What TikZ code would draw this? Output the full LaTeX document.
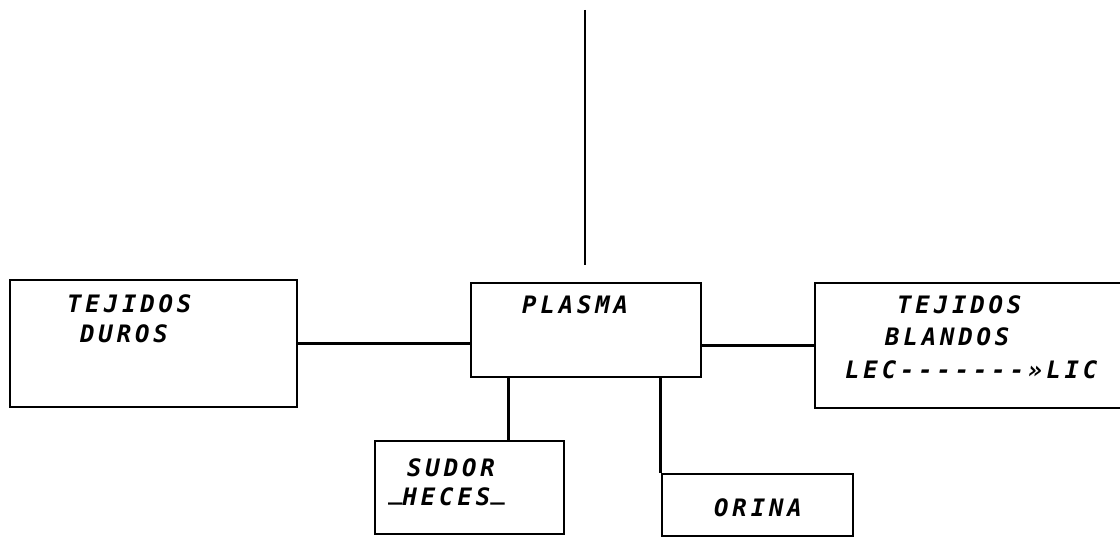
\documentclass[tikz,border=0pt]{standalone}
\usepackage{fontspec}
\newfontfamily\plotfont{DejaVu Sans Mono}[LetterSpace=16]
\begin{document}
\begin{tikzpicture}[x=1pt,y=-1pt,
  box/.style={draw, line width=2.8pt, rectangle, inner sep=0pt},
  lbl/.style={anchor=base west, inner sep=0pt, font=\plotfont\bfseries\itshape\fontsize{24}{24}\selectfont},
  wire/.style={line width=2.8pt}]
\useasboundingbox (0,0) rectangle (1120,537);
\clip (0,0) rectangle (1120,537);
% boxes
\node[box, minimum width=287, minimum height=127] (duros) at (153.5,343.5) {};
\node[box, minimum width=230, minimum height=94] (plasma) at (586,330) {};
\node[box, minimum width=320, minimum height=125] (blandos) at (975,345.5) {};
\node[box, minimum width=189, minimum height=93] (sudor) at (469.5,487.5) {};
\node[box, minimum width=191, minimum height=62] (orina) at (757.5,505) {};
% labels
\node[lbl] (t1) at (67,313) {TEJIDOS};
\node[lbl] (t2) at (80,343) {DUROS};
\node[lbl] (t3) at (522,314) {PLASMA};
\node[lbl] (t4) at (897,314) {TEJIDOS};
\node[lbl] (t5) at (885,346) {BLANDOS};
\node[lbl] (t6) at (845,379) {LEC-------»LIC};
\node[lbl] (t7) at (407,476) {SUDOR};
\node[lbl] (t8) at (388,505) {\raisebox{0.22em}{\_}HECES\raisebox{0.22em}{\_}};
\node[lbl] (t9) at (714,516) {ORINA};
% connectors
\coordinate (ta) at (585,10);
\coordinate (tb) at (585,265);
\draw[wire] (ta) -- (tb);
\draw[wire] (duros.east) -- (duros.east -| plasma.west);
\draw[wire] (blandos.west) -- (blandos.west -| plasma.east);
\coordinate (s1) at ([xshift=39]plasma.south west);
\draw[wire] (s1) -- (s1 |- sudor.north);
\draw[wire] (orina.north west |- plasma.south) -- (orina.north west);
\end{tikzpicture}
\end{document}
